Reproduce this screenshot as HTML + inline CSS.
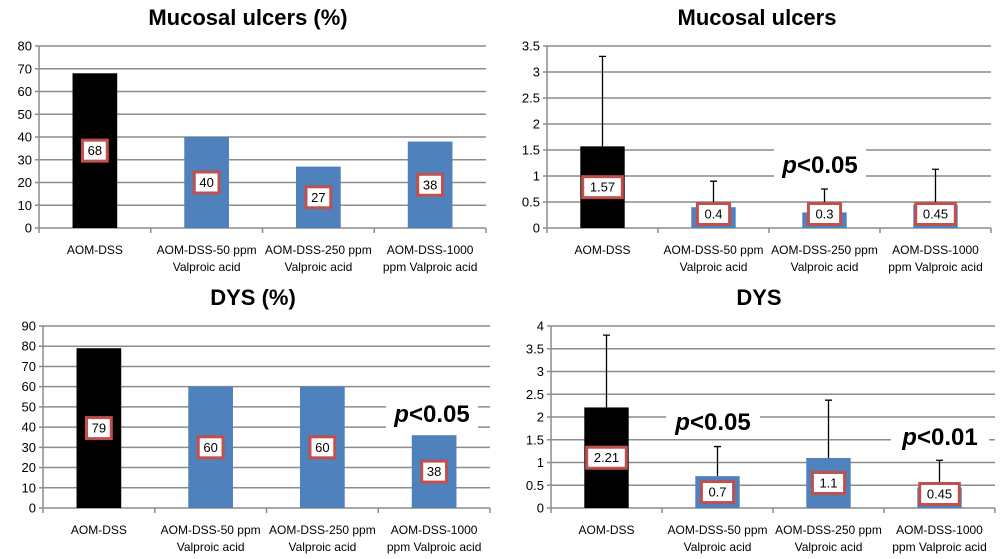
<!DOCTYPE html>
<html><head><meta charset="utf-8"><style>
html,body{margin:0;padding:0;background:#fff;}
svg{display:block;font-family:"Liberation Sans",sans-serif;}
</style></head><body>
<svg id="s" width="1000" height="559" viewBox="0 0 1000 559"></svg>
<script>
const categories = ["AOM-DSS|", "AOM-DSS-50 ppm|Valproic acid", "AOM-DSS-250 ppm|Valproic acid", "AOM-DSS-1000|ppm Valproic acid"];
const ulcPctValues = [68, 40, 27, 38];
const ulcPctLabels = ["68", "40", "27", "38"];
const ulcPctTicks = [0,10,20,30,40,50,60,70,80];
const ulcValues = [1.57, 0.4, 0.3, 0.45];
const ulcErr = [3.3, 0.9, 0.75, 1.13];
const ulcLabels = ["1.57", "0.4", "0.3", "0.45"];
const ulcTicks = [0,0.5,1,1.5,2,2.5,3,3.5];
const dysPctValues = [79, 60, 60, 36];
const dysPctLabels = ["79", "60", "60", "38"];
const dysPctTicks = [0,10,20,30,40,50,60,70,80,90];
const dysValues = [2.21, 0.7, 1.1, 0.45];
const dysErr = [3.8, 1.35, 2.37, 1.05];
const dysLabels = ["2.21", "0.7", "1.1", "0.45"];
const dysTicks = [0,0.5,1,1.5,2,2.5,3,3.5,4];

const svg = document.getElementById('s');
const NS = 'http://www.w3.org/2000/svg';
function mk(tag, attrs, parent, text){
  const e = document.createElementNS(NS, tag);
  for (const k in attrs) e.setAttribute(k, attrs[k]);
  if (text !== undefined) e.textContent = text;
  (parent||svg).appendChild(e);
  return e;
}
function chart(name, title, cx, x0, x1, y0, yTop, ticks, values, labels, errs, pnotes){
  const g = mk('g', {});
  
  
  const max = ticks[ticks.length-1];
  const ys = v => y0 - (v/max)*(y0-yTop);
  const cw = (x1-x0)/categories.length;
  const xc = i => x0 + cw*(i+0.5);
  const t = mk('text', {x:cx, y:yTop-21, 'text-anchor':'middle', 'font-size':22, 'font-weight':'bold', fill:'#000'}, g, title);
  
  
  ticks.forEach(v => {
    const y = ys(v);
    if (v > 0) {
      const gl = mk('line', {x1:x0, x2:x1, y1:y, y2:y, stroke:'#8c8c8c', 'stroke-width':1.5}, g);
      
      
    }
    mk('line', {x1:x0-4, x2:x0, y1:y, y2:y, stroke:'#8c8c8c', 'stroke-width':1.5}, g);
    const tl = mk('text', {x:x0-7, y:y+4.5, 'text-anchor':'end', 'font-size':13, fill:'#000'}, g, String(v));
    
    
  });
  (pnotes||[]).forEach(p => {
    mk('rect', {x:p.x-p.w/2, y:p.y-16, width:p.w, height:30, fill:'#fff'}, g);
    const pt = mk('text', {x:p.x, y:p.y+8, 'text-anchor':'middle', 'font-size':24, 'font-weight':'bold', fill:'#000'}, g);
    
    
    mk('tspan', {'font-style':'italic'}, pt, 'p');
    mk('tspan', {}, pt, p.t);
  });
  mk('line', {x1:x0, x2:x0, y1:yTop, y2:y0, stroke:'#8c8c8c', 'stroke-width':1.5}, g);
  mk('line', {x1:x0, x2:x1, y1:y0, y2:y0, stroke:'#8c8c8c', 'stroke-width':1.5}, g);
  for (let i=0;i<=categories.length;i++){
    mk('line', {x1:x0+cw*i, x2:x0+cw*i, y1:y0, y2:y0+5, stroke:'#8c8c8c', 'stroke-width':1.5}, g);
  }
  const bw = cw*0.4;
  values.forEach((v,i) => {
    if (errs) {
      const el = mk('path', {d:`M${xc(i)} ${ys(v)} V${ys(errs[i])} M${xc(i)-3.5} ${ys(errs[i])} H${xc(i)+3.5}`, stroke:'#000', 'stroke-width':1.3, fill:'none'}, g);
      
      
    }
    const b = mk('rect', {x:xc(i)-bw/2, y:ys(v), width:bw, height:y0-ys(v), fill: i===0 ? '#000' : '#4f81bd'}, g);
    
    
  });
  values.forEach((v,i) => {
    const ly = Math.min((ys(v)+y0)/2, y0-14);
    const lab = labels[i];
    const w = lab.length*7.4 + 10;
    mk('rect', {x:xc(i)-w/2, y:ly-10.5, width:w, height:21, fill:'#fff', stroke:'#c0504d', 'stroke-width':3}, g);
    const lt = mk('text', {x:xc(i), y:ly+4.5, 'text-anchor':'middle', 'font-size':13, fill:'#000'}, g, lab);
    
    
  });
  categories.forEach((c,i) => {
    const parts = c.split('|');
    const ct = mk('text', {x:xc(i), y:y0+26, 'text-anchor':'middle', 'font-size':12, fill:'#000'}, g);
    
    
    mk('tspan', {x:xc(i), dy:0}, ct, parts[0]);
    if (parts[1]) mk('tspan', {x:xc(i), dy:17}, ct, parts[1]);
  });
}
chart('mucosal-ulcers-pct-chart', 'Mucosal ulcers (%)', 248, 39, 486, 228, 46, ulcPctTicks, ulcPctValues, ulcPctLabels, null, []);
chart('mucosal-ulcers-chart', 'Mucosal ulcers', 757, 547, 991, 228, 46, ulcTicks, ulcValues, ulcLabels, ulcErr, [{x:820,y:165,w:92,t:'<0.05'}]);
chart('dys-pct-chart', 'DYS (%)', 253, 43, 490, 508, 326, dysPctTicks, dysPctValues, dysPctLabels, null, [{x:432,y:414,w:92,t:'<0.05'}]);
chart('dys-chart', 'DYS', 759, 551, 995, 508, 326, dysTicks, dysValues, dysLabels, dysErr, [{x:713,y:422,w:94,t:'<0.05'},{x:940,y:437,w:98,t:'<0.01'}]);
</script>
</body></html>
